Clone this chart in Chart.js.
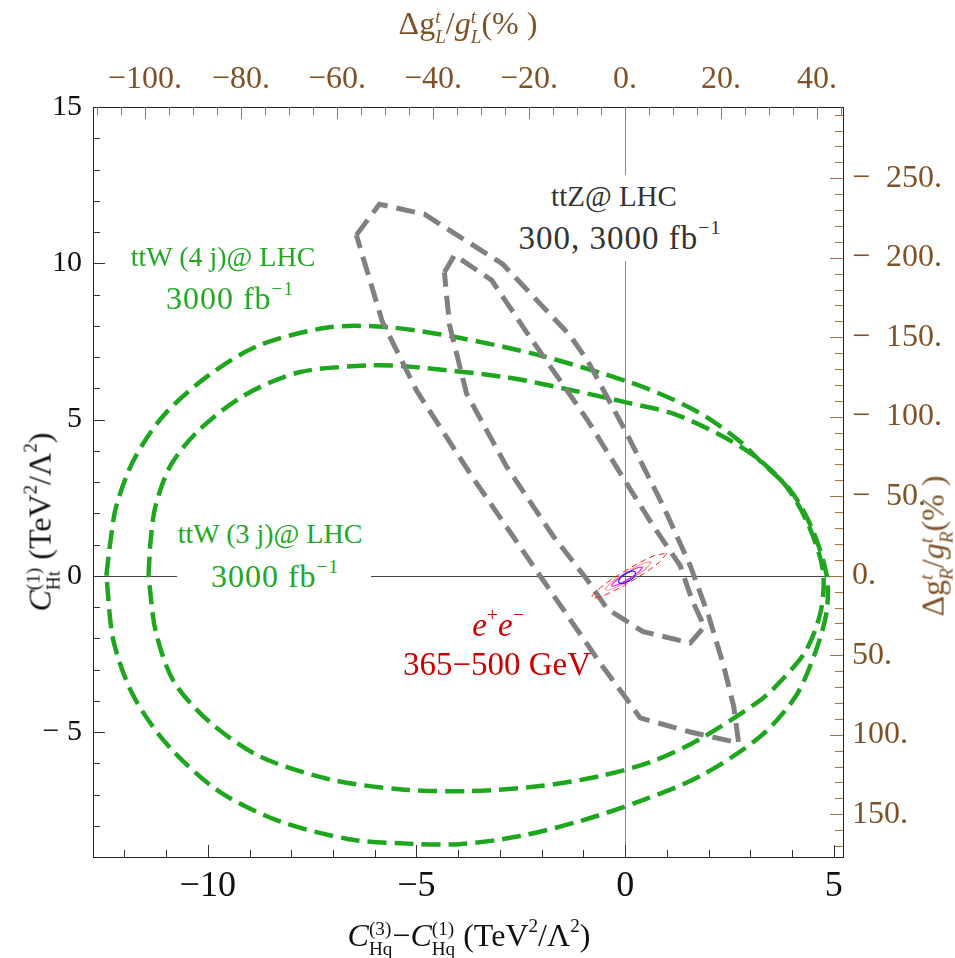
<!DOCTYPE html>
<html>
<head>
<meta charset="utf-8">
<script src="https://cdn.jsdelivr.net/npm/chart.js@4.4.0/dist/chart.umd.min.js"></script>
<style>
  html, body { margin: 0; padding: 0; background: #fff; }
  #wrap { position: relative; width: 955px; height: 958px; font-family: "Liberation Serif", serif; }
  canvas { position: absolute; left: 0; top: 0; }
  .lbl { position: absolute; white-space: nowrap; line-height: 1; transform: translate(-50%, -50%); }
  .box { position: absolute; background: #fff; }
  .sup { font-size: 0.6em; position: relative; top: -0.75em; }
  .ss { display: inline-block; vertical-align: -0.45em; font-size: 0.6em; line-height: 1.0; text-align: left; }
  .ss span { display: block; }
  .brown { color: #7e5226; }
</style>
</head>
<body>
<div id="wrap">
  <canvas id="chart" width="955" height="958"></canvas>

  <!-- curve labels -->
  <div class="lbl" style="left:223px; top:257px; font-size:28px; color:#22a822;">ttW (4 j)@ LHC</div>
  <div class="lbl" style="left:230px; top:298px; font-size:32px; color:#22a822; letter-spacing:1px;">3000 fb<span class="sup">−1</span></div>

  <div class="box" style="left:177px; top:508px; width:194px; height:92px;"></div>
  <div class="lbl" style="left:270px; top:534px; font-size:28px; color:#22a822;">ttW (3 j)@ LHC</div>
  <div class="lbl" style="left:275px; top:576px; font-size:32px; color:#22a822; letter-spacing:1px;">3000 fb<span class="sup">−1</span></div>

  <div class="box" style="left:508px; top:175px; width:225px; height:86px;"></div>
  <div class="lbl" style="left:614px; top:196px; font-size:29px; color:#333;">ttZ@ LHC</div>
  <div class="lbl" style="left:620px; top:238px; font-size:33px; color:#333; letter-spacing:1px;">300, 3000 fb<span class="sup">−1</span></div>

  <div class="lbl" style="left:498px; top:625px; font-size:33px; color:#cc0000;"><i>e</i><span class="sup">+</span><i>e</i><span class="sup">−</span></div>
  <div class="lbl" style="left:497px; top:664px; font-size:33px; color:#cc0000;">365−500 GeV</div>

  <!-- axis titles -->
  <div class="lbl brown" style="left:468px; top:26px; font-size:32px;">Δg<span class="ss"><span><i>t</i></span><span><i>L</i></span></span>/<i>g</i><span class="ss"><span><i>t</i></span><span><i>L</i></span></span>(% )</div>
  <div class="lbl brown" style="left:936px; top:546px; font-size:32px; transform: translate(-50%, -50%) rotate(-90deg);">Δg<span class="ss"><span><i>t</i></span><span><i>R</i></span></span>/<i>g</i><span class="ss"><span><i>t</i></span><span><i>R</i></span></span>(% )</div>
  <div class="lbl" style="left:43px; top:522px; font-size:32px; color:#111; transform: translate(-50%, -50%) rotate(-90deg);"><i>C</i><span class="ss"><span>(1)</span><span>Ht</span></span> (TeV<span class="sup">2</span>/Λ<span class="sup">2</span>)</div>
  <div class="lbl" style="left:469px; top:938px; font-size:32px; color:#111;"><i>C</i><span class="ss"><span>(3)</span><span>Hq</span></span>−<i>C</i><span class="ss"><span>(1)</span><span>Hq</span></span> (TeV<span class="sup">2</span>/Λ<span class="sup">2</span>)</div>
</div>

<script>
// axis ranges and tick labels
const xMin = -12.75, xMax = 5.22;
const yMin = -9, yMax = 15;
const xTickValues = [-10, -5, 0, 5];
const yTickValues = [-5, 0, 5, 10, 15];
const gLTickValues = [-100, -80, -60, -40, -20, 0, 20, 40];
const gRTickValues = [-250, -200, -150, -100, -50, 0, 50, 100, 150];
const gLMin = -110.8, gLMax = 45.4;
const gRMin = -294.8, gRMax = 176.9;

// ttW 4 jets, 3000 fb^-1 (outer green)
const ttW4jX = [-12.43, -12.33, -12.19, -11.78, -11.06, -9.98, -8.77, -7.09, -5.65, -4.04, -2.04, 0.05, 1.15, 1.97, 2.76, 3.25, 3.97, 4.50, 4.83, 4.83, 4.57, 4.09, 3.25, 1.80, 0.36, -1.08, -2.52, -3.97, -5.41, -6.61, -8.29, -9.74, -10.94, -11.78, -12.26, -12.43];
const ttW4jY = [0, 1.12, 2.24, 3.69, 5.13, 6.41, 7.37, 7.95, 7.95, 7.63, 7.05, 6.22, 5.64, 5.06, 4.29, 3.65, 2.72, 1.44, 0, -1.12, -2.40, -3.85, -5.13, -6.41, -7.21, -7.85, -8.33, -8.59, -8.56, -8.43, -7.85, -6.89, -5.45, -3.85, -2.08, 0];

// ttW 3 jets, 3000 fb^-1 (inner green)
const ttW3jX = [-11.42, -11.37, -11.25, -10.89, -10.22, -9.13, -7.81, -6.13, -5.24, -2.84, -1.25, 0.05, 1.15, 2.21, 3.08, 3.85, 4.40, 4.74, 4.69, 4.33, 3.73, 3.25, 1.80, 0.67, -0.60, -2.04, -3.73, -5.41, -7.09, -8.77, -9.98, -10.82, -11.25, -11.42];
const ttW3jY = [0, 1.12, 2.24, 3.53, 4.65, 5.77, 6.51, 6.73, 6.70, 6.35, 5.93, 5.54, 5.19, 4.55, 3.85, 2.88, 1.60, 0.16, -1.12, -2.40, -3.37, -3.97, -5.22, -5.93, -6.41, -6.73, -6.89, -6.83, -6.51, -5.77, -4.65, -3.37, -1.76, 0];

// ttZ 300 fb^-1 (outer gray)
const ttZ300X = [-6.44, -5.89, -4.81, -2.93, -1.32, -0.89, 0.00, 0.91, 1.56, 2.00, 2.36, 2.60, 2.72, 1.56, 0.36, 0.05, -0.60, -2.04, -3.65, -5.00, -5.82, -6.44];
const ttZ300Y = [10.90, 11.89, 11.57, 9.97, 7.69, 6.86, 4.65, 2.24, 0.32, -1.28, -2.88, -4.17, -5.35, -5.00, -4.55, -3.97, -2.79, 0, 3.14, 5.93, 8.14, 10.90];

// ttZ 3000 fb^-1 (inner gray)
const ttZ3000X = [-4.33, -4.09, -3.20, -2.36, -0.91, -0.05, 0.67, 1.32, 1.61, 1.90, 1.56, 0.43, -0.43, -0.91, -1.73, -2.84, -3.80, -4.21, -4.33];
const ttZ3000Y = [9.71, 10.26, 9.46, 7.79, 5.00, 3.14, 1.60, 0.32, -0.80, -1.63, -2.15, -1.79, -1.06, -0.13, 1.28, 3.49, 5.83, 8.04, 9.71];

// e+e- contours around the origin
const eeRedX = [1.00, 0.79, 0.175, -0.48, -0.80, -0.59, 0.025, 0.68, 1.00];
const eeRedY = [0.72, 0.40, -0.154, -0.61, -0.70, -0.38, 0.174, 0.63, 0.72];
const eePinkX = [0.63, 0.51, 0.13, -0.28, -0.47, -0.35, 0.03, 0.44, 0.63];
const eePinkY = [0.45, 0.24, -0.11, -0.40, -0.45, -0.24, 0.11, 0.40, 0.45];
const eeMagentaX = [0.42, 0.34, 0.09, -0.18, -0.32, -0.24, 0.01, 0.28, 0.42];
const eeMagentaY = [0.28, 0.14, -0.10, -0.29, -0.32, -0.18, 0.06, 0.25, 0.28];
const eeBlueX = [0.25, 0.23, 0.10, -0.06, -0.15, -0.13, 0.00, 0.16, 0.25];
const eeBlueY = [0.12, -0.01, -0.16, -0.25, -0.22, -0.09, 0.06, 0.15, 0.12];

const green = '#1ea61e';
const gray = '#808080';
const brown = '#7e5226';
const tickBrown = '#a07444';

function pts(xs, ys) {
  return xs.map((x, i) => ({ x: x, y: ys[i] }));
}

function curve(xs, ys, color, width, dash, tension) {
  return {
    data: pts(xs, ys),
    showLine: true,
    borderColor: color,
    borderWidth: width,
    borderDash: dash,
    tension: tension,
    pointRadius: 0,
    fill: false
  };
}

const datasets = [
  curve(eeBlueX, eeBlueY, '#2222ff', 1.2, [], 0.4),
  curve(eeMagentaX, eeMagentaY, '#e020e0', 1.2, [], 0.4),
  curve(eePinkX, eePinkY, '#ff9a9a', 1.2, [], 0.4),
  curve(eeRedX, eeRedY, '#ee2020', 1, [6, 4], 0.4),
  curve(ttZ300X, ttZ300Y, gray, 5, [19, 9], 0),
  curve(ttZ3000X, ttZ3000Y, gray, 5, [19, 9], 0),
  curve(ttW4jX, ttW4jY, green, 4.5, [19, 8], 0.3),
  curve(ttW3jX, ttW3jY, green, 4.5, [19, 8], 0.3)
];

const zeroLines = {
  id: 'zeroLines',
  beforeDatasetsDraw(chart) {
    const { ctx, chartArea: a, scales } = chart;
    const x0 = Math.round(scales.x.getPixelForValue(0)) + 0.5;
    const y0 = Math.round(scales.y.getPixelForValue(0)) + 0.5;
    ctx.save();
    ctx.lineWidth = 1;
    ctx.strokeStyle = '#8c8c8c';
    ctx.beginPath(); ctx.moveTo(x0, a.top); ctx.lineTo(x0, a.bottom); ctx.stroke();
    ctx.strokeStyle = '#444';
    ctx.beginPath(); ctx.moveTo(a.left, y0); ctx.lineTo(a.right, y0); ctx.stroke();
    ctx.restore();
  }
};

// inward frame ticks, major and minor
const frameTicks = {
  id: 'frameTicks',
  afterDatasetsDraw(chart) {
    const { ctx, chartArea: a, scales } = chart;
    ctx.save();
    ctx.lineWidth = 1;
    const line = (x1, y1, x2, y2) => { ctx.beginPath(); ctx.moveTo(x1, y1); ctx.lineTo(x2, y2); ctx.stroke(); };
    ctx.strokeStyle = '#333';
    for (let v = -12; v <= 5; v++) {
      const p = Math.round(scales.x.getPixelForValue(v)) + 0.5;
      line(p, a.bottom, p, a.bottom - (v % 5 === 0 ? 12 : 7));
    }
    for (let v = -8; v <= 14; v++) {
      const p = Math.round(scales.y.getPixelForValue(v)) + 0.5;
      line(a.left, p, a.left + (v % 5 === 0 ? 12 : 7), p);
    }
    ctx.strokeStyle = tickBrown;
    for (let v = -110; v <= 45; v += 5) {
      const p = Math.round(scales.x2.getPixelForValue(v)) + 0.5;
      line(p, a.top, p, a.top + (v % 20 === 0 ? 12 : 8));
    }
    for (let v = -290; v <= 170; v += 10) {
      const p = Math.round(scales.y2.getPixelForValue(v)) + 0.5;
      line(a.right, p, a.right - (v % 50 === 0 ? 13 : 8), p);
    }
    ctx.restore();
  }
};

const serif = 'Liberation Serif';
const frame = { display: true, color: '#222', width: 1 };
const noGrid = { display: false, drawTicks: false };

new Chart(document.getElementById('chart'), {
  type: 'scatter',
  data: { datasets: datasets },
  options: {
    responsive: false,
    animation: false,
    layout: { padding: 0 },
    plugins: { legend: { display: false }, tooltip: { enabled: false } },
    scales: {
      x: {
        type: 'linear', position: 'bottom', min: xMin, max: xMax,
        afterFit: s => { s.height = 101; },
        afterBuildTicks: s => { s.ticks = xTickValues.map(v => ({ value: v })); },
        grid: noGrid, border: frame,
        ticks: {
          autoSkip: false, maxRotation: 0, padding: 8, color: '#111',
          font: { family: serif, size: 36 },
          callback: v => (v < 0 ? '−' + Math.abs(v) : String(v))
        }
      },
      x2: {
        type: 'linear', position: 'top', min: gLMin, max: gLMax,
        afterFit: s => { s.height = 107; },
        afterBuildTicks: s => { s.ticks = gLTickValues.map(v => ({ value: v })); },
        grid: noGrid, border: frame,
        ticks: {
          autoSkip: false, maxRotation: 0, padding: 8, color: brown,
          font: { family: serif, size: 32 },
          callback: v => (v < 0 ? '−' + Math.abs(v) + '.' : v + '.')
        }
      },
      y: {
        type: 'linear', position: 'left', min: yMin, max: yMax,
        afterFit: s => { s.width = 93; },
        afterBuildTicks: s => { s.ticks = yTickValues.map(v => ({ value: v })); },
        grid: noGrid, border: frame,
        ticks: {
          autoSkip: false, padding: 11, color: '#111',
          font: { family: serif, size: 30 },
          callback: v => (v < 0 ? '− ' + Math.abs(v) : String(v))
        }
      },
      y2: {
        type: 'linear', position: 'right', reverse: true, min: gRMin, max: gRMax,
        afterFit: s => { s.width = 112; },
        afterBuildTicks: s => { s.ticks = gRTickValues.map(v => ({ value: v })); },
        grid: noGrid, border: frame,
        ticks: {
          autoSkip: false, padding: 9, color: brown,
          font: { family: serif, size: 32 },
          callback: v => (v < 0 ? '−  ' + Math.abs(v) + '.' : v + '.')
        }
      }
    }
  },
  plugins: [zeroLines, frameTicks]
});
</script>
</body>
</html>
